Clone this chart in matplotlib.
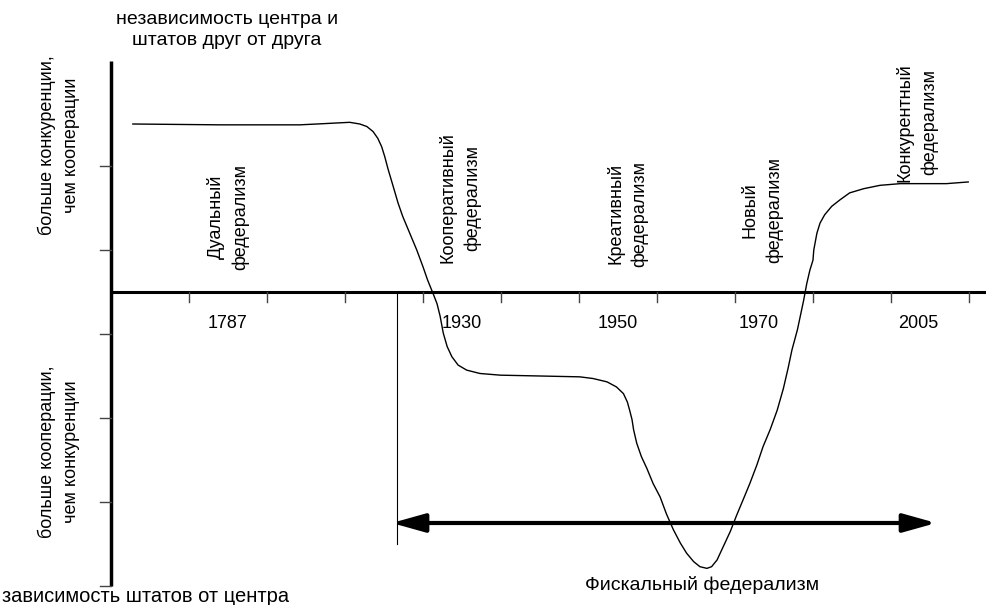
import numpy as np
import matplotlib
matplotlib.use('Agg')
import matplotlib.pyplot as plt
from matplotlib.patches import FancyArrowPatch

plt.rcParams['font.family'] = ['Liberation Sans', 'DejaVu Sans']

# curve of the relations centre / states (x, y in tick units)
curve_x = [0.28, 1.40, 2.26, 2.42, 2.64, 2.85, 3.06, 3.19, 3.28, 3.36, 3.42, 3.47,
           3.51, 3.55, 3.62, 3.68, 3.74, 3.83, 3.92, 4.00, 4.06, 4.13, 4.18, 4.22,
           4.26, 4.31, 4.37, 4.45, 4.56, 4.73, 4.99, 5.50, 6.01, 6.18, 6.36, 6.48,
           6.57, 6.62, 6.65, 6.68, 6.70, 6.74, 6.80, 6.87, 6.95, 7.04, 7.12, 7.21,
           7.30, 7.38, 7.47, 7.55, 7.64, 7.70, 7.77, 7.85, 7.94, 8.02, 8.11, 8.19,
           8.28, 8.36, 8.45, 8.54, 8.62, 8.68, 8.73, 8.80, 8.88, 8.92, 8.96, 9.00,
           9.01, 9.05, 9.09, 9.15, 9.24, 9.35, 9.47, 9.65, 9.86, 10.12, 10.46, 10.71,
           10.99]
curve_y = [2.00, 1.99, 1.99, 1.99, 2.00, 2.01, 2.02, 2.00, 1.97, 1.91, 1.83, 1.73,
           1.61, 1.47, 1.25, 1.06, 0.90, 0.70, 0.50, 0.30, 0.14, -0.02, -0.14, -0.29,
           -0.49, -0.65, -0.77, -0.87, -0.93, -0.97, -0.99, -1.00, -1.01, -1.03, -1.07, -1.13,
           -1.21, -1.31, -1.41, -1.52, -1.64, -1.80, -1.96, -2.10, -2.28, -2.44, -2.64, -2.83,
           -2.99, -3.11, -3.21, -3.27, -3.29, -3.27, -3.19, -3.03, -2.85, -2.66, -2.46, -2.28,
           -2.06, -1.84, -1.64, -1.41, -1.15, -0.91, -0.69, -0.45, -0.10, 0.10, 0.26, 0.38,
           0.50, 0.70, 0.82, 0.92, 1.02, 1.10, 1.18, 1.23, 1.27, 1.29, 1.29, 1.29,
           1.31]

x_ticks = list(range(1, 12))
y_ticks = [1.5, 0.5, -0.5, -1.5, -2.5, -3.5]
x_axis_end = 11.23
y_axis_top = 2.75
y_axis_bottom = -3.5

years = ['1787', '1930', '1950', '1970', '2005']
year_x = [1.50, 4.50, 6.50, 8.30, 10.35]

periods = ['Дуальный\nфедерализм', 'Кооперативный\nфедерализм', 'Креативный\nфедерализм',
           'Новый\nфедерализм', 'Конкурентный\nфедерализм']
period_x = [1.50, 4.47, 6.62, 8.35, 10.33]
period_y = [0.89, 1.12, 0.93, 0.98, 2.02]

fiscal_line_x = 3.67
fiscal_start = 3.60
fiscal_end = 10.58
fiscal_y = -2.75
fiscal_line_bottom = -3.0

fig = plt.figure(figsize=(9.87, 6.05), dpi=100)
ax = fig.add_axes([0, 0, 1, 1])
ax.set_xlim(-111 / 78, 876 / 78)
ax.set_ylim(-313 / 84, 292 / 84)
ax.axis('off')

# axes
ax.plot([0, 0], [y_axis_bottom, y_axis_top], color='black', lw=2.5, solid_capstyle='butt')
ax.plot([0, x_axis_end], [0, 0], color='black', lw=2.2, solid_capstyle='butt')
for xt in x_ticks:
    ax.plot([xt, xt], [0, -0.12], color='#444444', lw=1)
for yt in y_ticks:
    ax.plot([-0.14, 0], [yt, yt], color='#444444', lw=1)

# curve
ax.plot(curve_x, curve_y, color='black', lw=1)

# fiscal federalism
ax.plot([fiscal_line_x, fiscal_line_x], [0, fiscal_line_bottom], color='black', lw=0.8)
arr = FancyArrowPatch((fiscal_start, fiscal_y), (fiscal_end, fiscal_y),
                      arrowstyle='<|-|>,head_length=1.0,head_width=0.28',
                      mutation_scale=20, color='black', lw=3, shrinkA=0, shrinkB=0)
ax.add_patch(arr)

for lab, xp in zip(years, year_x):
    ax.text(xp, -0.38, lab, ha='center', va='center', fontsize=13)

for lab, xp, yp in zip(periods, period_x, period_y):
    ax.text(xp, yp, lab, ha='center', va='center', rotation=90, fontsize=13,
            multialignment='center', linespacing=1.5)

ax.text(227 / 78 - 111 / 78, (292 - 30) / 84, 'независимость центра и\nштатов друг от друга',
        ha='center', va='center', fontsize=14, linespacing=1.3)
ax.text(2 / 78 - 111 / 78, (292 - 596) / 84, 'зависимость штатов от центра',
        ha='left', va='center', fontsize=14.5)
ax.text(-52 / 78, (292 - 145) / 84, 'больше конкуренции,\nчем кооперации',
        ha='center', va='center', rotation=90, fontsize=13, linespacing=1.5)
ax.text(-52 / 78, (292 - 452) / 84, 'больше кооперации,\nчем конкуренции',
        ha='center', va='center', rotation=90, fontsize=13, linespacing=1.5)
ax.text(7.58, (292 - 585) / 84, 'Фискальный федерализм', ha='center', va='center',
        fontsize=14)

plt.savefig('out.png', dpi=100)
plt.close()
